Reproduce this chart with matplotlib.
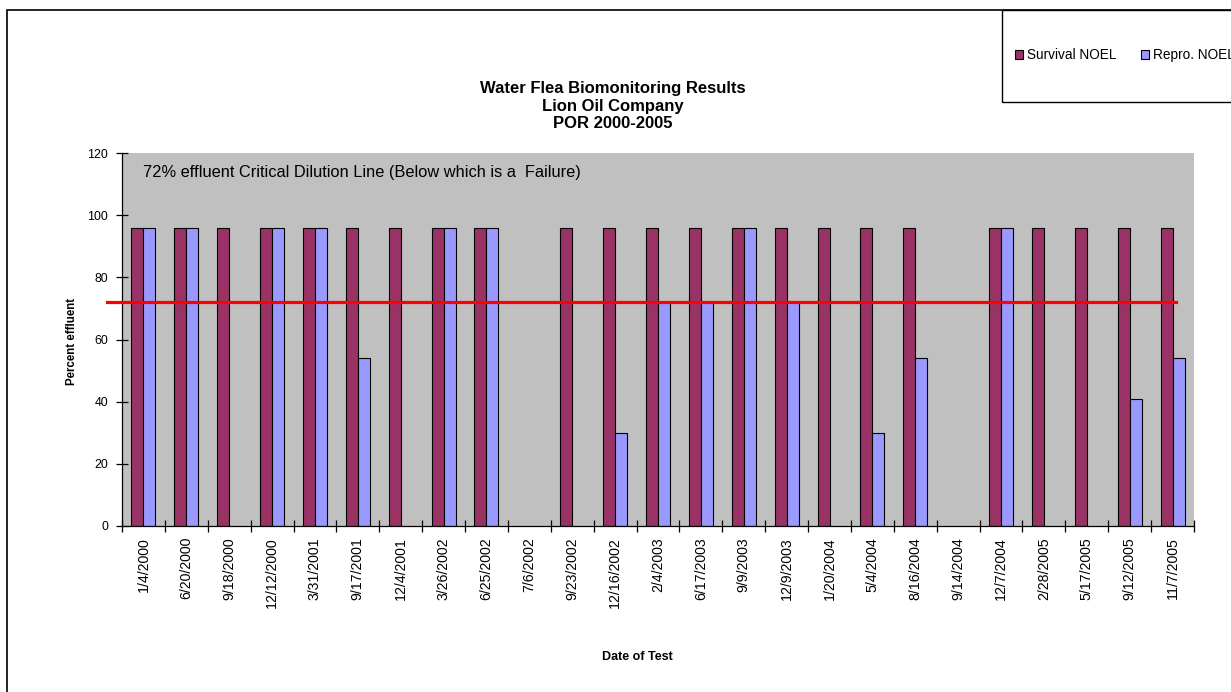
import numpy as np
import matplotlib
matplotlib.use("Agg")
import matplotlib.pyplot as plt
from matplotlib.patches import Rectangle

dates = ["1/4/2000", "6/20/2000", "9/18/2000", "12/12/2000", "3/31/2001",
         "9/17/2001", "12/4/2001", "3/26/2002", "6/25/2002", "7/6/2002",
         "9/23/2002", "12/16/2002", "2/4/2003", "6/17/2003", "9/9/2003",
         "12/9/2003", "1/20/2004", "5/4/2004", "8/16/2004", "9/14/2004",
         "12/7/2004", "2/28/2005", "5/17/2005", "9/12/2005", "11/7/2005"]
nan = np.nan
survival_noel = [96, 96, 96, 96, 96, 96, 96, 96, 96, nan,
                 96, 96, 96, 96, 96, 96, 96, 96, 96, nan,
                 96, 96, 96, 96, 96]
repro_noel = [96, 96, nan, 96, 96, 54, nan, 96, 96, nan,
              nan, 30, 72, 72, 96, 72, nan, 30, 54, nan,
              96, nan, nan, 41, 54]
critical_dilution = 72
y_ticks = [0, 20, 40, 60, 80, 100, 120]
title_lines = ["Water Flea Biomonitoring Results", "Lion Oil Company",
               "POR 2000-2005"]

W, H = 1231, 692
fig = plt.figure(figsize=(W / 100, H / 100), dpi=100)
fig.patch.set_facecolor("white")
plt.rcParams["font.family"] = ["Liberation Sans", "DejaVu Sans"]

# chart frame and legend box
fig.patches.append(Rectangle((7 / W, -0.05), 1.2, 1.05 - 10 / H,
                             transform=fig.transFigure, fill=False,
                             edgecolor="black", linewidth=1.2))
fig.patches.append(Rectangle((1002 / W, 1 - 102 / H), 0.3, 92 / H,
                             transform=fig.transFigure, fill=False,
                             edgecolor="black", linewidth=1.0))

ax = fig.add_axes([122 / W, 1 - 526 / H, (1194 - 122) / W, (526 - 153) / H])
ax.set_facecolor("#C0C0C0")

x = np.arange(len(dates))
bw = 0.28
b1 = ax.bar(x - bw / 2, survival_noel, bw, color="#993366",
            edgecolor="black", linewidth=0.8, label="Survival NOEL")
b2 = ax.bar(x + bw / 2, repro_noel, bw, color="#9999FF",
            edgecolor="black", linewidth=0.8, label="Repro. NOEL")

ax.set_xlim(-0.5, len(dates) - 0.5)
ax.set_ylim(0, 120)

# critical dilution line
ax.plot([-0.85, 24.09], [critical_dilution, critical_dilution],
        color="#FF0000", linewidth=2.3, clip_on=False, zorder=5)
ax.text(143 / W, 1 - 173 / H,
        "72% effluent Critical Dilution Line (Below which is a  Failure)",
        transform=fig.transFigure, fontsize=11.8, va="center", ha="left")

for s in ["top", "right"]:
    ax.spines[s].set_visible(False)
ax.spines["left"].set_linewidth(0.9)
ax.spines["bottom"].set_linewidth(0.9)

ax.set_yticks(y_ticks)
ax.set_yticklabels([str(v) for v in y_ticks], fontsize=8.9)
ax.tick_params(axis="y", direction="inout", length=8, width=0.9, pad=6)

ax.set_xticks(np.arange(len(dates) + 1) - 0.5, minor=False)
ax.set_xticklabels([])
ax.tick_params(axis="x", direction="inout", length=8, width=0.9)
ax.set_xticks(x, minor=True)
ax.set_xticklabels(dates, minor=True, rotation=90, fontsize=10.2)
ax.tick_params(axis="x", which="minor", length=0, pad=8)

for ty, line in zip([89, 106, 123], title_lines):
    fig.text(613 / W, 1 - ty / H, line, ha="center", va="center",
             fontsize=12, fontweight="bold")
fig.text(72 / W, 1 - 341 / H, "Percent effluent", rotation=90,
         ha="center", va="center", fontsize=8.3, fontweight="bold")
fig.text(637 / W, 1 - 657 / H, "Date of Test", ha="center", va="center",
         fontsize=9, fontweight="bold")

fig.legend(handles=[b1, b2], loc="center left",
           bbox_to_anchor=(1015 / W, 1 - 55 / H), ncol=2, frameon=False,
           fontsize=9.8, handlelength=0.6, handleheight=0.6,
           handletextpad=0.3, columnspacing=1.75, borderpad=0,
           borderaxespad=0)

fig.savefig("out.png", dpi=100)
